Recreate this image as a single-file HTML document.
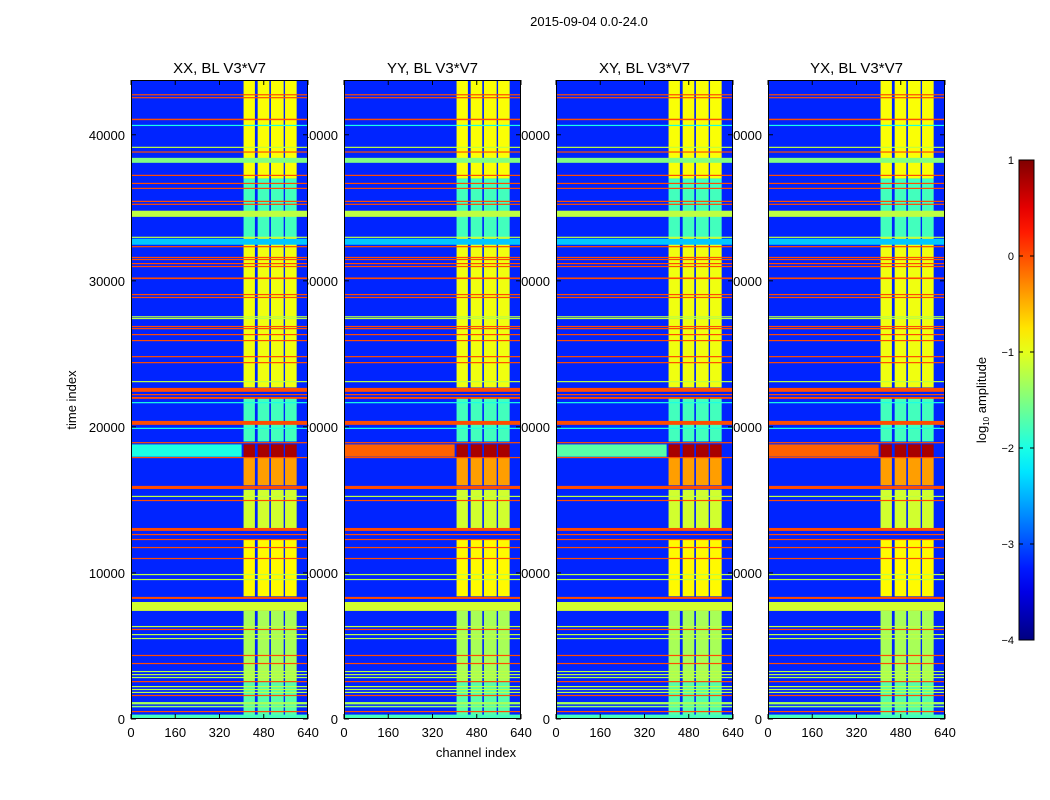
<!DOCTYPE html>
<html><head><meta charset="utf-8"><style>
html,body{margin:0;padding:0;background:#fff;}
svg{display:block;font-family:"Liberation Sans",sans-serif;}
</style></head><body>
<svg id="fig" width="1050" height="800" viewBox="0 0 1050 800"></svg>
<script>
const tickTimes=[0,10000,20000,30000,40000];
const tickChans=[0,160,320,480,640];
const panelNames=['XX, BL V3*V7','YY, BL V3*V7','XY, BL V3*V7','YX, BL V3*V7'];
const rfiLevels=[-2.0,-0.1,-1.7,-0.1];
// horizontal RFI bands (time index)
const bandStart=[42700,42500,41000,40600,39100,38780,38080,37180,36630,36290,35400,35200,34380,32940,32470,32300,31560,31420,31140,30940,30120,29020,28820,27500,27380,26830,26690,26280,25870,24770,24360,23060,22400,22170,21920,21620,20140,19860,18880,17860,15750,15200,14920,12880,12590,12250,11700,10950,9850,9510,8220,7400,6290,6090,5740,5470,4310,3760,3210,3000,2800,2520,2180,1980,1780,1570,1000,800,470,50];
const bandEnd=[42780,42580,41100,40680,39180,38860,38420,37260,36710,36370,35480,35280,34800,33020,32880,32380,31640,31500,31220,31020,30230,29100,28900,27580,27460,26910,26770,26360,25950,24850,24440,23140,22670,22250,22050,21700,20410,19940,18960,17940,15960,15280,15000,13080,12670,12330,11780,11030,9930,9590,8360,8010,6370,6170,5820,5550,4390,3840,3290,3080,2880,2600,2260,2060,1860,1650,1160,900,550,300];
const bandLevel=[0,0,0,-2,-1.2,0,-1.5,0,0,0,0,0,-1.2,-1.2,-2.4,0,0,0,0,0,0,0,0,-1.2,-1.2,0,0,0,0,0,0,-1.2,0,0,0,-2,0,-2,0,0,0,-1.2,0,0,0,0,0,0,-1.2,-1.2,0,-1.1,-1.2,0,-1.2,-1.2,0,0,-1.2,-1.2,-1.2,0,-1.2,-1.2,-1.2,0,-1.3,-1.4,0,-1.8];
// bright channel columns
const colStart=[407,458,506,557];
const colEnd=[448,500,552,599];
const segStart=[37000,33000,22700,19000,17900,16000,12900,8400,2600,0];
const segEnd=[43750,37000,33000,22000,18800,17900,15700,12300,7400,2600];
const segLevel=[-0.9,-1.8,-0.95,-1.8,0.8,-0.4,-1.1,-0.85,-1.3,-1.7];
const cbTicks=[1,0,-1,-2,-3,-4];

const NS='http://www.w3.org/2000/svg';
const svg=document.getElementById('fig');
function mk(tag,attrs,parent){const e=document.createElementNS(NS,tag);for(const k in attrs)e.setAttribute(k,attrs[k]);(parent||svg).appendChild(e);return e;}
function jet(v){const f=Math.max(0,Math.min(1,(v+4)/5));const c=x=>Math.round(255*Math.max(0,Math.min(1,1.5-Math.abs(4*f-x))));return `rgb(${c(3)},${c(2)},${c(1)})`;}
const Y0=80,Y1=719,TMAX=43750,PW=177;
const panelX=[131,344,556,768];
const yS=t=>Y1-(t/TMAX)*(Y1-Y0);
function xS(p,c){return panelX[p]+c/640*PW;}

let t=mk('text',{x:589,y:26,'text-anchor':'middle','font-size':13});
t.textContent='2015-09-04 0.0-24.0';


panelX.forEach((x0,p)=>{
  tickTimes.forEach(v=>{
    const l=mk('text',{x:x0-6,y:yS(v)+5,'text-anchor':'end','font-size':13});
    l.textContent=String(v);
    
    
  });
});
panelX.forEach((x0,p)=>{
  const g=mk('g',{});
  
  
  mk('rect',{x:x0,y:Y0,width:PW,height:Y1-Y0,fill:jet(-3.2)},g);
  segStart.forEach((s,i)=>{
    colStart.forEach((c,j)=>{
      const r=mk('rect',{x:xS(p,c),y:yS(segEnd[i]),width:xS(p,colEnd[j])-xS(p,c),height:yS(segStart[i])-yS(segEnd[i]),fill:jet(segLevel[i])},g);
      
      
    });
  });
  bandStart.forEach((s,i)=>{
    const h=Math.max(1.2,yS(s)-yS(bandEnd[i]));
    const r=mk('rect',{x:x0,y:yS(bandEnd[i]),width:PW,height:h,fill:jet(bandLevel[i])},g);
    
    
  });
  const rf=mk('rect',{x:x0,y:yS(18800),width:xS(p,400)-x0,height:yS(17960)-yS(18800),fill:jet(rfiLevels[p])},g);
  
  
  mk('rect',{x:x0+0.5,y:Y0+0.5,width:PW-1,height:Y1-Y0-1,fill:'none',stroke:'#000','stroke-width':1},g);
  tickTimes.forEach(v=>{mk('line',{x1:x0,x2:x0+5,y1:yS(v),y2:yS(v),stroke:'#000'},g);mk('line',{x1:x0+PW-5,x2:x0+PW,y1:yS(v),y2:yS(v),stroke:'#000'},g);});
  tickChans.forEach(c=>{
    mk('line',{x1:xS(p,c),x2:xS(p,c),y1:Y1,y2:Y1-5,stroke:'#000'},g);
    mk('line',{x1:xS(p,c),x2:xS(p,c),y1:Y0,y2:Y0+5,stroke:'#000'},g);
    const l=mk('text',{x:xS(p,c),y:737,'text-anchor':'middle','font-size':13});
    l.textContent=String(c);
    
    
  });
  const tt=mk('text',{x:x0+PW/2,y:73,'text-anchor':'middle','font-size':15});
  tt.textContent=panelNames[p];
  
  
});
t=mk('text',{x:76,y:400,'text-anchor':'middle','font-size':13,transform:'rotate(-90 76 400)'});
t.textContent='time index';
t=mk('text',{x:476,y:757,'text-anchor':'middle','font-size':13});
t.textContent='channel index';

const CB0=160,CB1=640,CBX=1019,CBW=15;
const defs=mk('defs',{});
const lg=mk('linearGradient',{id:'jetg',x1:0,y1:1,x2:0,y2:0},defs);
for(let i=0;i<=20;i++){mk('stop',{offset:i/20,'stop-color':jet(-4+5*i/20)},lg);}
const cb=mk('rect',{x:CBX,y:CB0,width:CBW,height:CB1-CB0,fill:'url(#jetg)',stroke:'#000'});

cbTicks.forEach(v=>{
  const y=CB1-(v+4)/5*(CB1-CB0);
  mk('line',{x1:CBX,x2:CBX+4,y1:y,y2:y,stroke:'#000'});
  mk('line',{x1:CBX+CBW-4,x2:CBX+CBW,y1:y,y2:y,stroke:'#000'});
  const l=mk('text',{x:1014,y:y+4,'text-anchor':'end','font-size':11});
  l.textContent=v<0?'\u2212'+Math.abs(v):String(v);
  
  
});
t=mk('text',{x:986,y:400,'text-anchor':'middle','font-size':13,transform:'rotate(-90 986 400)'});
t.innerHTML='log<tspan font-size="8" dy="3">10</tspan><tspan dy="-3"> amplitude</tspan>';

</script>
</body></html>
